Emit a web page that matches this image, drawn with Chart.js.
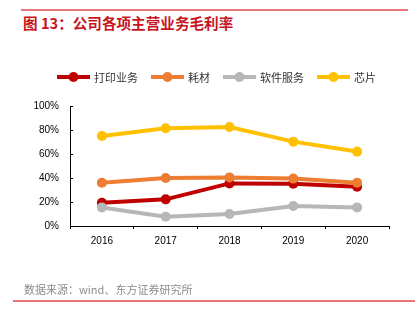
<!DOCTYPE html>
<html>
<head>
<meta charset="utf-8">
<script src="https://cdn.jsdelivr.net/npm/chart.js@4.4.1/dist/chart.umd.min.js"></script>
<style>
  html, body { margin: 0; padding: 0; background: #fff; }
  #wrap { position: relative; width: 416px; height: 324px; overflow: hidden; }
  #chart { position: absolute; left: 0; top: 0; }
  .rule { position: absolute; height: 2px; background: #E8777A; }
  #title { position: absolute; left: 23px; top: 14px; font: bold 14.6px "Noto Sans CJK SC", sans-serif; color: #C8141E; white-space: nowrap; line-height: 18px; }
  #source { position: absolute; left: 24px; top: 282px; font: 11px "Noto Sans CJK SC", sans-serif; color: #8C8C8C; white-space: nowrap; line-height: 14px; }
</style>
</head>
<body>
<div id="wrap">
  <div class="rule" style="left:21px; top:9px; width:387px;"></div>
  <div id="title">图 13：公司各项主营业务毛利率</div>
  <canvas id="chart" width="416" height="324"></canvas>
  <div id="source">数据来源：wind、东方证券研究所</div>
  <div class="rule" style="left:13px; top:300px; width:402px;"></div>
</div>
<script>
// Gross margin by business line, percent
const years = ['2016', '2017', '2018', '2019', '2020'];
const printing = [19.4, 22.2, 35.5, 35.3, 32.8];
const consumables = [36.0, 40.0, 40.5, 39.5, 36.0];
const software = [15.5, 7.8, 10.0, 16.7, 15.5];
const chips = [75.0, 81.4, 82.5, 70.3, 62.0];
const seriesNames = ['打印业务', '耗材', '软件服务', '芯片'];
const seriesColors = ['#C00000', '#ED7D31', '#B7B7B7', '#FFC000'];
const yTicks = [0, 20, 40, 60, 80, 100];

const seriesData = [printing, consumables, software, chips];

const datasets = seriesData.map((d, i) => ({
  label: seriesNames[i],
  data: d,
  borderColor: seriesColors[i],
  backgroundColor: seriesColors[i],
  pointBackgroundColor: seriesColors[i],
  pointBorderColor: seriesColors[i],
  borderWidth: 4,
  pointRadius: 5,
  pointBorderWidth: 0,
  tension: 0,
  order: seriesData.length - i
}));

// Legend row: short line with a dot, followed by the series name
const lineLegend = {
  id: 'lineLegend',
  afterDraw(chart) {
    const ctx = chart.ctx;
    const y = 77;
    let x = 57;
    ctx.save();
    ctx.font = '11px "Noto Sans CJK SC", sans-serif';
    ctx.textBaseline = 'middle';
    chart.data.datasets.forEach(ds => {
      ctx.strokeStyle = ds.borderColor;
      ctx.lineWidth = 4;
      ctx.beginPath();
      ctx.moveTo(x, y);
      ctx.lineTo(x + 33, y);
      ctx.stroke();
      ctx.fillStyle = ds.borderColor;
      ctx.beginPath();
      ctx.arc(x + 16.5, y, 5, 0, Math.PI * 2);
      ctx.fill();
      ctx.fillStyle = '#333';
      ctx.fillText(ds.label, x + 37, y + 0.5);
      x += 37 + ctx.measureText(ds.label).width + 13;
    });
    ctx.restore();
  }
};

// Short inward tick marks on the value axis
const innerTicks = {
  id: 'innerTicks',
  afterDraw(chart) {
    const s = chart.scales.y;
    const ctx = chart.ctx;
    ctx.save();
    ctx.strokeStyle = '#000';
    ctx.lineWidth = 1;
    yTicks.forEach(v => {
      const py = Math.round(s.getPixelForValue(v)) + 0.5;
      ctx.beginPath();
      ctx.moveTo(chart.chartArea.left, py);
      ctx.lineTo(chart.chartArea.left + 3, py);
      ctx.stroke();
    });
    ctx.restore();
  }
};

new Chart(document.getElementById('chart'), {
  type: 'line',
  data: { labels: years, datasets },
  options: {
    responsive: false,
    animation: false,
    layout: { padding: { left: 0, right: 27, top: 106, bottom: 78 } },
    plugins: { legend: { display: false }, tooltip: { enabled: false } },
    scales: {
      x: {
        offset: true,
        grid: { display: true, drawOnChartArea: false, drawTicks: true, tickLength: 3, color: '#000', offset: true },
        border: { display: true, color: '#000', width: 1 },
        ticks: { color: '#000', font: { family: 'Liberation Sans', size: 10 }, padding: 6, maxRotation: 0 },
        afterFit(scale) { scale.height = 20; }
      },
      y: {
        min: 0, max: 100,
        afterBuildTicks(scale) { scale.ticks = yTicks.map(v => ({ value: v })); },
        grid: { display: false, drawTicks: false },
        border: { display: true, color: '#000', width: 1 },
        ticks: { color: '#000', font: { family: 'Liberation Sans', size: 10 }, padding: 11, callback: v => v + '%' },
        afterFit(scale) { scale.width = 70; }
      }
    }
  },
  plugins: [lineLegend, innerTicks]
});
</script>
</body>
</html>
